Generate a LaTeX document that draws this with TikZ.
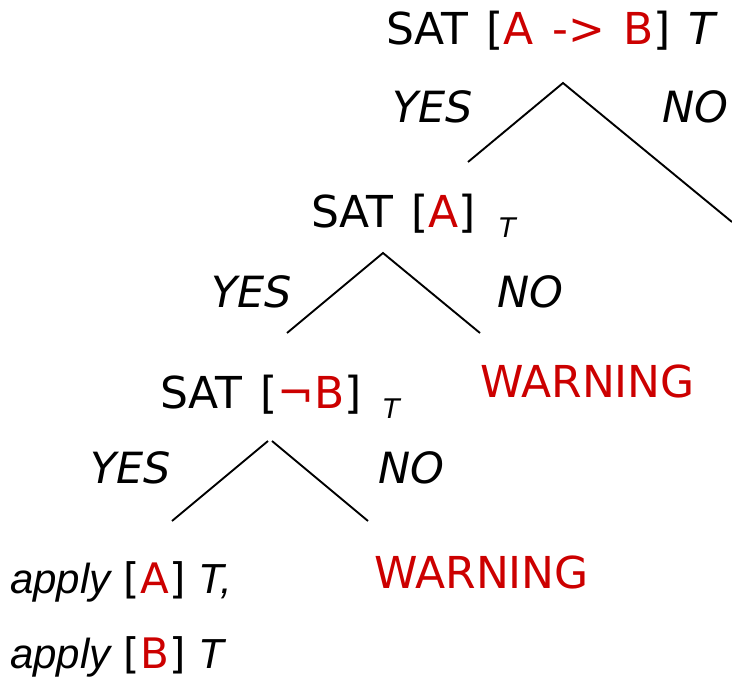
\documentclass[tikz,border=0pt]{standalone}
\usepackage{fontspec}
\setmainfont[WordSpace=1.3]{DejaVu Sans}
\newfontfamily\plainfont{DejaVu Sans}
\newfontfamily\arialit{Liberation Sans Italic}
\definecolor{warnred}{HTML}{CC0000}
\begin{document}
\begin{tikzpicture}[x=1pt,y=-1pt,
  lbl/.style={anchor=base west,inner sep=0pt,font=\fontsize{44}{50}\selectfont},
  ans/.style={lbl,font=\fontsize{43}{50}\selectfont\itshape},
  warn/.style={lbl,text=warnred},
  sub/.style={anchor=base west,inner sep=0pt,font=\fontsize{27}{30}\selectfont\itshape},
  act/.style={lbl,font=\fontsize{42}{50}\selectfont\plainfont},
  branch/.style={line width=1.9pt,black}]
\useasboundingbox (0,0) rectangle (732,680);
\newcommand{\rd}[1]{\textcolor{warnred}{#1}}

% root test
\node[lbl] (root) at (386,45) {SAT [\rd{A -> B}] \textit{T}};
\node[ans] (y1) at (392,122) {YES};
\node[ans] (n1) at (662,122) {NO};
\coordinate (a1) at (563,83);
\coordinate (l1) at (468,162);
\coordinate (r1) at (732,222);
\draw[branch] (l1) -- (a1) -- (r1);

% second test
\node[lbl] (s2) at (311,227) {SAT [\rd{A}]};
\node[sub] (t2) at (499,237) {T};
\node[ans] (y2) at (211,307) {YES};
\node[ans] (n2) at (497,307) {NO};
\coordinate (a2) at (383,253);
\coordinate (l2) at (287,333);
\coordinate (r2) at (480,333);
\draw[branch] (l2) -- (a2) -- (r2);
\node[warn] (w1) at (480,397) {WARNING};

% third test
\node[lbl] (s3) at (160,408) {SAT [\rd{\char"00AC B}]};
\node[sub] (t3) at (383,418) {T};
\node[ans] (y3) at (90,483) {YES};
\node[ans] (n3) at (378,483) {NO};
\coordinate (a3l) at (268,441);
\coordinate (a3r) at (272,441);
\coordinate (l3) at (172,521);
\coordinate (r3) at (368,521);
\draw[branch] (l3) -- (a3l);
\draw[branch] (a3r) -- (r3);
\node[warn] (w2) at (374,588) {WARNING};

% leaf actions
\node[act] (ap1) at (10,593) {{\arialit apply} [\rd{A}] {\arialit T,}};
\node[act] (ap2) at (10,668) {{\arialit apply} [\rd{B}] {\arialit T}};
\end{tikzpicture}
\end{document}
